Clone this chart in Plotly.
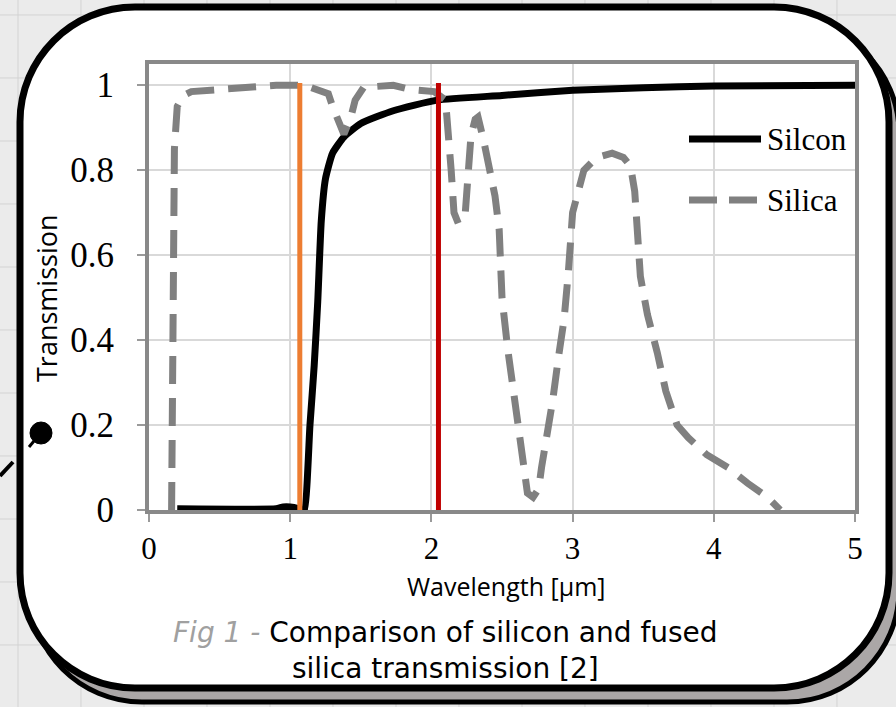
import plotly.graph_objects as go

# ---- data -------------------------------------------------------------
silicon_wl = [0.2, 0.9, 0.95, 1.0, 1.05, 1.08, 1.10, 1.14, 1.17, 1.195, 1.22, 1.25,
              1.3, 1.38, 1.5, 1.73, 2.04, 2.5, 3.0, 3.5, 4.0, 5.0]
silicon_tr = [0.003, 0.003, 0.007, 0.007, 0.004, 0.0, 0.0, 0.2, 0.34, 0.49, 0.68, 0.78,
              0.84, 0.878, 0.91, 0.94, 0.965, 0.976, 0.988, 0.994, 0.998, 1.0]

silica_wl = [0.16, 0.17, 0.18, 0.2, 0.24, 0.3, 0.5, 0.9, 1.1, 1.2, 1.27, 1.3, 1.34, 1.38,
             1.43, 1.46, 1.52, 1.73, 1.85, 2.02, 2.1, 2.12, 2.14, 2.16, 2.19, 2.24, 2.26,
             2.28, 2.31, 2.33, 2.37, 2.41, 2.45, 2.48, 2.5, 2.54, 2.58, 2.62, 2.65, 2.68,
             2.72, 2.76, 2.78, 2.82, 2.86, 2.9, 2.94, 2.97, 3.0, 3.08, 3.17, 3.28, 3.36,
             3.41, 3.44, 3.48, 3.53, 3.6, 3.66, 3.74, 3.82, 3.95, 4.1, 4.24, 4.38, 4.47]
silica_tr = [0.0, 0.4, 0.85, 0.95, 0.975, 0.985, 0.99, 1.0, 1.0, 0.99, 0.98, 0.95, 0.92, 0.885,
             0.925, 0.965, 0.995, 1.0, 0.99, 0.985, 0.965, 0.9, 0.8, 0.7, 0.675, 0.7, 0.8,
             0.88, 0.92, 0.925, 0.87, 0.8, 0.74, 0.66, 0.5, 0.38, 0.28, 0.19, 0.1, 0.04,
             0.03, 0.05, 0.1, 0.17, 0.26, 0.36, 0.45, 0.56, 0.7, 0.8, 0.83, 0.84, 0.83,
             0.81, 0.75, 0.55, 0.46, 0.37, 0.28, 0.2, 0.17, 0.13, 0.1, 0.063, 0.03, 0.0]

marker_wl = [1.068, 2.05]
marker_top = [1.005, 1.005]
marker_colors = ["#ED7D31", "#C00000"]

series_names = ["Silcon", "Silica"]
x_ticks = [0, 1, 2, 3, 4, 5]
y_ticks = [0, 0.2, 0.4, 0.6, 0.8, 1]
y_tick_text = ["0", "0.2", "0.4", "0.6", "0.8", "1"]

# ---- page geometry (pixels) -------------------------------------------
W_PX, H_PX = 896, 707
L, R, T, B = 149, 855, 64, 510
PW, PH = R - L, B - T


def px(x):
    return (x - L) / PW


def py(y):
    return (B - y) / PH


def rounded_box(x0, y0, x1, y1, r):
    k = 0.5523 * r
    pts = [
        ("M", [(x0 + r, y0)]),
        ("L", [(x1 - r, y0)]),
        ("C", [(x1 - r + k, y0), (x1, y0 + r - k), (x1, y0 + r)]),
        ("L", [(x1, y1 - r)]),
        ("C", [(x1, y1 - r + k), (x1 - r + k, y1), (x1 - r, y1)]),
        ("L", [(x0 + r, y1)]),
        ("C", [(x0 + r - k, y1), (x0, y1 - r + k), (x0, y1 - r)]),
        ("L", [(x0, y0 + r)]),
        ("C", [(x0, y0 + r - k), (x0 + r - k, y0), (x0 + r, y0)]),
    ]
    s = ""
    for cmd, coords in pts:
        s += cmd + " ".join(f"{px(a):.5f},{py(b):.5f}" for a, b in coords) + " "
    return s + "Z"


shapes = []

# squared backdrop
grid = ""
gx = 18
while gx < W_PX:
    grid += f"M{px(gx):.5f},{py(0):.5f} L{px(gx):.5f},{py(H_PX):.5f} "
    gx += 63
gy = 15
while gy < H_PX:
    grid += f"M{px(0):.5f},{py(gy):.5f} L{px(W_PX):.5f},{py(gy):.5f} "
    gy += 63
shapes.append(dict(type="path", xref="paper", yref="paper", path=grid,
                   line=dict(color="#d3d3d3", width=1), layer="below"))

# card shadow and card
shapes.append(dict(type="path", xref="paper", yref="paper",
                   path=rounded_box(30, 21, 899, 702, 112),
                   fillcolor="#aba7a7", line=dict(color="black", width=5), layer="below"))
shapes.append(dict(type="path", xref="paper", yref="paper",
                   path=rounded_box(20, 7, 889, 688, 115),
                   fillcolor="white", line=dict(color="black", width=7), layer="below"))

# connector with bullet on the left edge
shapes.append(dict(type="line", xref="paper", yref="paper",
                   x0=px(0), y0=py(476), x1=px(13), y1=py(462),
                   line=dict(color="black", width=4)))
shapes.append(dict(type="circle", xref="paper", yref="paper",
                   x0=px(30), y0=py(422), x1=px(52), y1=py(444),
                   fillcolor="black", line=dict(color="black", width=1)))
shapes.append(dict(type="line", xref="paper", yref="paper",
                   x0=px(29), y0=py(447), x1=px(34), y1=py(441),
                   line=dict(color="black", width=3)))

# legend samples
shapes.append(dict(type="line", xref="paper", yref="paper",
                   x0=px(689), y0=py(139), x1=px(761), y1=py(139),
                   line=dict(color="black", width=7)))
shapes.append(dict(type="line", xref="paper", yref="paper",
                   x0=px(689), y0=py(200), x1=px(761), y1=py(200),
                   line=dict(color="#808080", width=7, dash="28px,12px")))

fig = go.Figure()

fig.add_trace(go.Scatter(x=silicon_wl, y=silicon_tr, mode="lines", name=series_names[0],
                         line=dict(color="black", width=7, shape="spline", smoothing=0.5),
                         showlegend=False))
fig.add_trace(go.Scatter(x=silica_wl, y=silica_tr, mode="lines", name=series_names[1],
                         line=dict(color="#808080", width=7, dash="28px,14px"),
                         showlegend=False))
for wl, top, col in zip(marker_wl, marker_top, marker_colors):
    fig.add_trace(go.Scatter(x=[wl, wl], y=[0, top], mode="lines",
                             line=dict(color=col, width=5), showlegend=False,
                             hoverinfo="skip"))

serif = "Liberation Serif, Times New Roman, serif"
sans = "Open Sans, Noto Sans, sans-serif"
caption_font = "DejaVu Sans, Verdana, sans-serif"

annotations = [
    dict(xref="paper", yref="paper", x=px(765), y=py(139), text=series_names[0],
         showarrow=False, xanchor="left", yanchor="middle",
         font=dict(family=serif, size=31, color="black")),
    dict(xref="paper", yref="paper", x=px(765), y=py(200), text=series_names[1],
         showarrow=False, xanchor="left", yanchor="middle",
         font=dict(family=serif, size=31, color="black")),
    dict(xref="paper", yref="paper", x=px(506), y=py(586), text="Wavelength [µm]",
         showarrow=False, xanchor="center", yanchor="middle",
         font=dict(family=sans, size=25, color="black")),
    dict(xref="paper", yref="paper", x=px(46), y=py(298), text="Transmission",
         showarrow=False, xanchor="center", yanchor="middle", textangle=-90,
         font=dict(family=sans, size=27, color="black")),
    dict(xref="paper", yref="paper", x=px(445), y=py(650),
         text="<i><span style='color:#a0a0a0'>Fig 1 - </span></i>Comparison of silicon and fused"
              "<br>silica transmission [2]",
         showarrow=False, xanchor="center", yanchor="middle", align="center",
         font=dict(family=caption_font, size=28, color="black")),
]

fig.update_layout(
    width=W_PX, height=H_PX, autosize=False,
    margin=dict(l=L, r=W_PX - R, t=T, b=H_PX - B, pad=0),
    paper_bgcolor="#ebebeb", plot_bgcolor="white",
    shapes=shapes, annotations=annotations, showlegend=False,
)
fig.update_xaxes(range=[0, 5], tickvals=x_ticks, ticks="outside", ticklen=8,
                 tickwidth=2, tickcolor="#9a9a9a", showgrid=True, gridcolor="#d9d9d9",
                 gridwidth=2, zeroline=False, showline=True, mirror=True,
                 linecolor="#898989", linewidth=4, layer="below traces",
                 tickfont=dict(family=serif, size=31, color="black"),
                 ticklabelstandoff=0)
fig.update_yaxes(range=[0, 1.05], tickvals=y_ticks, ticktext=y_tick_text, ticks="outside",
                 ticklen=8, tickwidth=2, tickcolor="#9a9a9a", showgrid=True,
                 gridcolor="#d9d9d9", gridwidth=2, zeroline=False, showline=True,
                 mirror=True, linecolor="#898989", linewidth=4, layer="below traces",
                 tickfont=dict(family=serif, size=35, color="black"),
                 ticklabelstandoff=16)

fig.write_html("out.html")
